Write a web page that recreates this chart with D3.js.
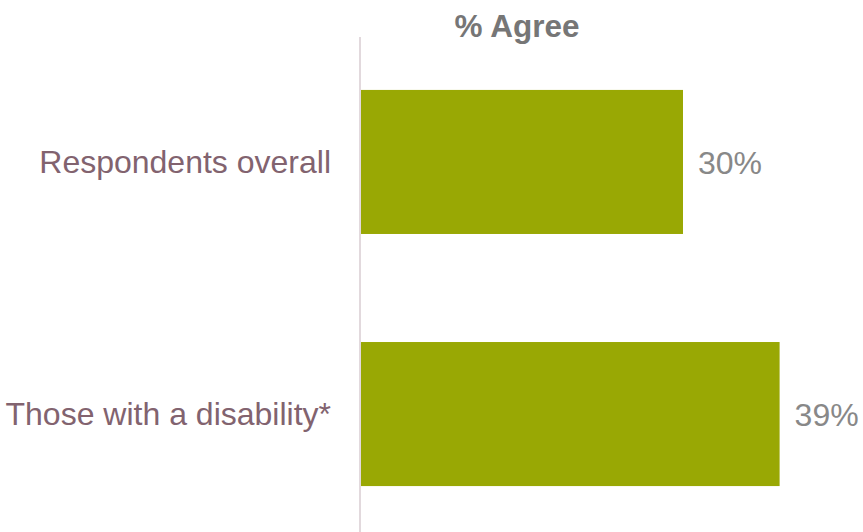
<!DOCTYPE html>
<html><head><meta charset="utf-8">
<script src="https://cdn.jsdelivr.net/npm/d3@7"></script>
<style>body{margin:0;background:#fff}svg{display:block}</style>
</head><body>
<script>
const categories = ["Respondents overall", "Those with a disability*"];
const values = [0.30, 0.39];
const valueLabels = ["30%", "39%"];
const title = "% Agree";

const W = 863, H = 532;
const svg = d3.select("body").append("svg").attr("width", W).attr("height", H);
const font = "'Liberation Sans', Arial, sans-serif";

const x = d3.scaleLinear().domain([0, 0.45]).range([361, 844]);
const y = d3.scaleBand().domain(categories).range([38, 538]).paddingInner(0.4286).paddingOuter(0.206);

svg.append("text").attr("x", 517).attr("y", 37).attr("text-anchor", "middle")
  .attr("font-family", font).attr("font-size", 31.5).attr("font-weight", "bold")
  .attr("fill", "#767676").text(title);

svg.selectAll("rect.bar").data(categories).join("rect").attr("class", "bar")
  .attr("x", x(0)).attr("y", d => y(d))
  .attr("width", (d, i) => x(values[i]) - x(0)).attr("height", y.bandwidth())
  .attr("fill", "#99a804");

svg.append("line").attr("x1", 360).attr("x2", 360).attr("y1", 37).attr("y2", H)
  .attr("stroke", "#e2d9dd").attr("stroke-width", 2);

svg.selectAll("text.cat").data(categories).join("text").attr("class", "cat")
  .attr("x", 331).attr("y", d => y(d) + y.bandwidth() / 2 + 11)
  .attr("text-anchor", "end").attr("font-family", font).attr("font-size", 32)
  .attr("fill", "#82636f").text(d => d);

svg.selectAll("text.val").data(categories).join("text").attr("class", "val")
  .attr("x", (d, i) => x(values[i]) + 15).attr("y", d => y(d) + y.bandwidth() / 2 + 12)
  .attr("font-family", font).attr("font-size", 32)
  .attr("fill", "#888888").text((d, i) => valueLabels[i]);
</script>
</body></html>
